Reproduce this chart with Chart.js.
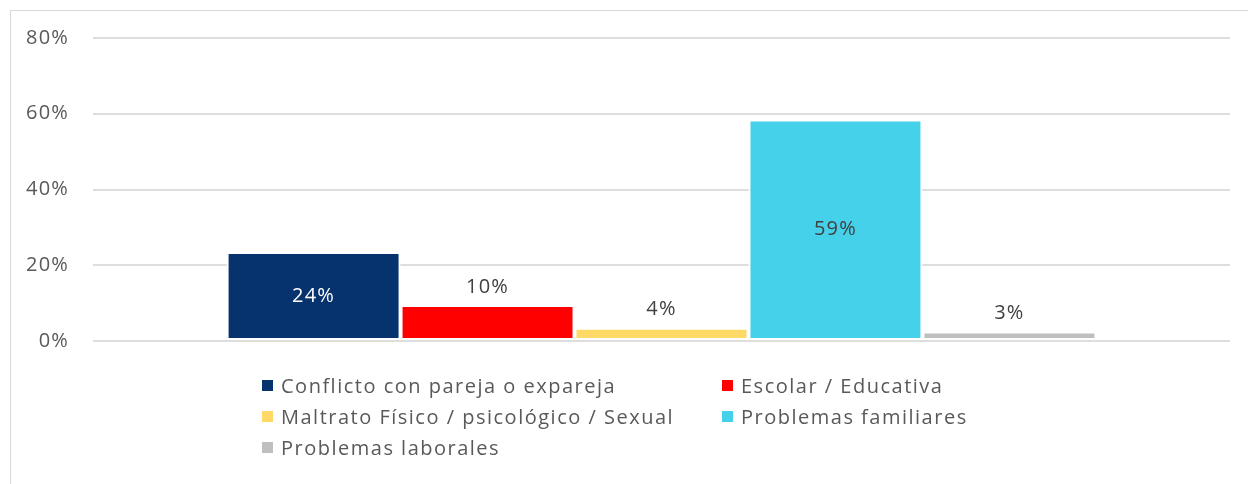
<!DOCTYPE html>
<html>
<head>
<meta charset="utf-8">
<script src="https://cdn.jsdelivr.net/npm/chart.js@4/dist/chart.umd.min.js"></script>
<style>
    body { margin: 0; background: #fff; font-family: "Open Sans", sans-serif; }
    #wrap { position: relative; width: 1248px; height: 484px; overflow: hidden; }
    #frame { position: absolute; left: 10px; top: 10px; width: 1300px; height: 600px; border: 1px solid #d9d9d9; box-sizing: border-box; }
    canvas { position: absolute; left: 0; top: 0; }
    #legend { position: absolute; left: 262px; top: 370px; display: grid; grid-template-columns: 460px 320px; grid-auto-rows: 31px; color: #595959; font-size: 20px; letter-spacing: 1.5px; }
    .item { display: flex; align-items: center; white-space: nowrap; }
    .box { width: 11px; height: 11px; margin-right: 8px; flex: none; }
</style>
</head>
<body>
<div id="wrap">
    <div id="frame"></div>
    <canvas id="motivoChart" width="1248" height="484"></canvas>
    <div id="legend"></div>
</div>
<script>
// Data
const categories = [''];
const seriesNames = [
    'Conflicto con pareja o expareja',
    'Escolar / Educativa',
    'Maltrato Físico / psicológico / Sexual',
    'Problemas familiares',
    'Problemas laborales'
];
const seriesValues = [23.5, 9.5, 3.5, 58.5, 2.5];
const seriesColors = ['#06326e', '#ff0000', '#fed966', '#46d1ea', '#bfbfbf'];
const labelColors = ['#ffffff', '#404040', '#404040', '#404040', '#404040'];
const yTicks = [0, 20, 40, 60, 80];

const FONT = '"Open Sans", sans-serif';

// wider letter spacing on the canvas text (closer to the original font)
const spacing = {
    id: 'spacing',
    beforeDraw(chart) {
        chart.ctx.letterSpacing = '1.2px';
    }
};

// Draws the value labels (inside big bars, above small ones)
const valueLabels = {
    id: 'valueLabels',
    afterDatasetsDraw(chart) {
        const ctx = chart.ctx;
        ctx.save();
        ctx.letterSpacing = '1.2px';
        ctx.font = '20px ' + FONT;
        ctx.textAlign = 'center';
        ctx.textBaseline = 'middle';
        chart.data.datasets.forEach((ds, i) => {
            const bar = chart.getDatasetMeta(i).data[0];
            const v = ds.data[0];
            const text = Math.round(v) + '%';
            let y;
            if (v > 15) {
                y = (bar.y + bar.base) / 2;
                ctx.fillStyle = labelColors[i];
            } else {
                y = bar.y - 18;
                ctx.fillStyle = '#404040';
            }
            ctx.fillText(text, bar.x, y);
        });
        ctx.restore();
    }
};

function createChart() {
    const ctx = document.getElementById('motivoChart').getContext('2d');

    const datasets = seriesNames.map((name, i) => ({
        label: name,
        data: [seriesValues[i]],
        backgroundColor: seriesColors[i],
        borderColor: '#ffffff',
        borderWidth: 2,
        borderSkipped: false
    }));

    const chart = new Chart(ctx, {
        type: 'bar',
        data: { labels: categories, datasets: datasets },
        options: {
            responsive: false,
            animation: false,
            layout: { padding: { left: 0, right: 18, top: 38, bottom: 143 } },
            datasets: {
                bar: { categoryPercentage: 0.765, barPercentage: 1 }
            },
            plugins: {
                legend: { display: false },
                tooltip: { enabled: false }
            },
            scales: {
                x: { display: false },
                y: {
                    min: 0,
                    max: 80,
                    afterFit: (scale) => { scale.width = 93; },
                    afterBuildTicks: (scale) => { scale.ticks = yTicks.map(v => ({ value: v })); },
                    border: { display: false },
                    grid: { color: '#dedede', lineWidth: 2, drawTicks: false },
                    ticks: {
                        padding: 24,
                        color: '#595959',
                        font: { family: FONT, size: 20 },
                        callback: (v) => v + '%'
                    }
                }
            }
        },
        plugins: [spacing, valueLabels]
    });

    // HTML legend in two columns
    const legend = document.getElementById('legend');
    chart.data.datasets.forEach(ds => {
        const item = document.createElement('div');
        item.className = 'item';
        item.innerHTML = '<span class="box" style="background:' + ds.backgroundColor + '"></span>' + ds.label;
        legend.appendChild(item);
    });
}

window.onload = function () {
    createChart();
};
</script>
</body>
</html>
